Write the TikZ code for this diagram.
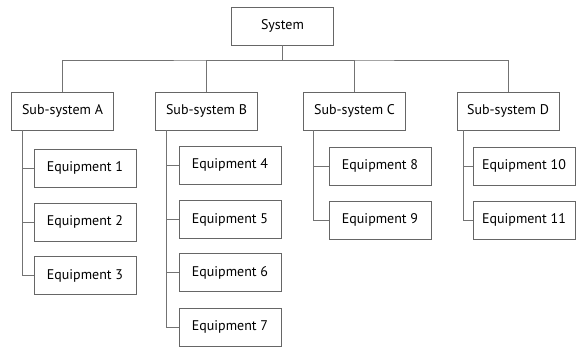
\documentclass[tikz,border=0pt]{standalone}
\usepackage{fontspec}
\setmainfont{PT Sans}
\begin{document}
\begin{tikzpicture}[x=1pt,y=-1pt,
  box/.style={draw=black!60,line width=0.8pt,minimum width=102pt,minimum height=38pt,inner sep=0pt,font=\fontsize{14}{16}\selectfont},
  link/.style={draw=black!55,line width=0.8pt}]
\useasboundingbox (0,0) rectangle (581,347);
% top level
\node[box] (sys) at (282.5,26) {System};
\coordinate (bus) at (282.5,60);
% sub-systems
\node[box] (subA) at (62.5,111) {Sub-system A};
\node[box] (subB) at (206.5,111) {Sub-system B};
\node[box] (subC) at (354.5,111) {Sub-system C};
\node[box] (subD) at (508,111) {Sub-system D};
\draw[link] (sys.south) -- (bus);
\draw[link] (subA.north) |- (bus) -| (subD.north);
\draw[link] (subB.north) |- (bus);
\draw[link] (subC.north) |- (bus);
% equipment
\node[box] (eq1) at (85,168) {Equipment 1};
\node[box] (eq2) at (85,222) {Equipment 2};
\node[box] (eq3) at (85,275.5) {Equipment 3};
\node[box] (eq4) at (230,165) {Equipment 4};
\node[box] (eq5) at (230,219.5) {Equipment 5};
\node[box] (eq6) at (230,272.5) {Equipment 6};
\node[box] (eq7) at (230,327) {Equipment 7};
\node[box] (eq8) at (380,166) {Equipment 8};
\node[box] (eq9) at (380,220) {Equipment 9};
\node[box] (eq10) at (524,166) {Equipment 10};
\node[box] (eq11) at (524,220) {Equipment 11};
\coordinate (tA) at ([xshift=11pt]subA.south west);
\coordinate (tB) at ([xshift=11pt]subB.south west);
\coordinate (tC) at ([xshift=10pt]subC.south west);
\coordinate (tD) at ([xshift=7pt]subD.south west);
\draw[link] (tA) |- (eq3.west);
\foreach \e in {eq1,eq2} \draw[link] (tA |- \e.west) -- (\e.west);
\draw[link] (tB) |- (eq7.west);
\foreach \e in {eq4,eq5,eq6} \draw[link] (tB |- \e.west) -- (\e.west);
\draw[link] (tC) |- (eq9.west);
\draw[link] (tC |- eq8.west) -- (eq8.west);
\draw[link] (tD) |- (eq11.west);
\draw[link] (tD |- eq10.west) -- (eq10.west);
\end{tikzpicture}
\end{document}
